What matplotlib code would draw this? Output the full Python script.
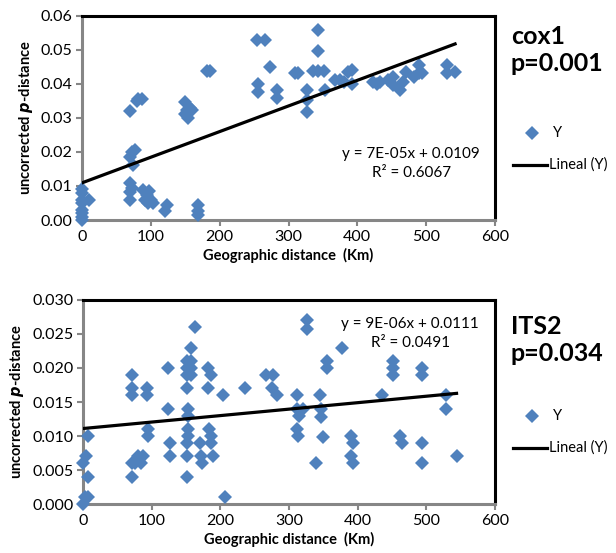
import matplotlib.pyplot as plt
import numpy as np

# cox1: geographic distance (km) vs uncorrected p-distance
cox1_km = [0, 0, 0, 0, 0, 0, 0, 0, 10,
           70, 72, 70, 74, 77, 70, 70, 70, 72,
           82, 80, 87,
           89, 92, 94, 96, 103, 98, 100,
           121, 123,
           150, 157, 152, 154, 160, 150,
           169, 169, 169,
           181, 186,
           254, 266, 273, 256, 256, 283, 283,
           310, 314,
           327, 327, 327,
           343, 343, 336, 343, 351,
           353,
           368, 375, 380,
           387, 392, 392,
           423, 433, 428,
           452, 452, 462, 467, 470, 445,
           489, 489, 494, 483,
           530, 530, 542]
cox1_p = [0.009, 0.008, 0.006, 0.005, 0.003, 0.002, 0.001, 0.000, 0.006,
          0.032, 0.020, 0.0186, 0.016, 0.0206, 0.011, 0.0083, 0.006, 0.0095,
          0.0354, 0.035, 0.0355,
          0.0088, 0.006, 0.0073, 0.005, 0.005, 0.0085, 0.006,
          0.0025, 0.0044,
          0.0347, 0.033, 0.0323, 0.030, 0.0323, 0.031,
          0.0044, 0.0025, 0.0015,
          0.0438, 0.0438,
          0.0529, 0.0529, 0.0448, 0.040, 0.0377, 0.0382, 0.0357,
          0.0431, 0.0431,
          0.0382, 0.0352, 0.0318,
          0.0558, 0.0497, 0.0438, 0.0438, 0.0438,
          0.0382,
          0.041, 0.041, 0.0405,
          0.0435, 0.044, 0.040,
          0.0406, 0.0406, 0.040,
          0.042, 0.0396, 0.038, 0.0406, 0.0435, 0.041,
          0.0455, 0.043, 0.043, 0.042,
          0.0455, 0.043, 0.0435]

# ITS2
its2_km = [0, 3, 8, 0, 5, 8, 8,
           71, 71, 71, 71, 71, 76, 80, 84, 88,
           93, 93, 95, 95,
           124, 124, 127, 127,
           151, 151, 151, 157, 157, 157, 158, 163, 151,
           153, 153, 153, 153, 151, 151, 151,
           170, 172, 174,
           182, 187, 182, 183, 186, 186, 190,
           204, 207, 236,
           267, 276, 275, 282,
           311, 311, 315, 320, 311, 313, 326, 326,
           345, 347, 347, 350, 340,
           355, 355, 377,
           391, 393, 391, 393,
           435, 452, 452, 452,
           461, 464,
           493, 493, 493, 493,
           529, 529, 544]
its2_p = [0.000, 0.001, 0.001, 0.006, 0.007, 0.004, 0.010,
          0.019, 0.017, 0.016, 0.004, 0.006, 0.006, 0.007, 0.006, 0.007,
          0.017, 0.016, 0.011, 0.010,
          0.020, 0.014, 0.009, 0.007,
          0.021, 0.020, 0.019, 0.021, 0.020, 0.019, 0.023, 0.026, 0.017,
          0.014, 0.013, 0.011, 0.010, 0.009, 0.007, 0.004,
          0.009, 0.007, 0.006,
          0.020, 0.019, 0.017, 0.011, 0.010, 0.009, 0.007,
          0.016, 0.001, 0.017,
          0.019, 0.019, 0.017, 0.016,
          0.016, 0.014, 0.013, 0.014, 0.011, 0.010, 0.027, 0.0258,
          0.016, 0.014, 0.0128, 0.0099, 0.006,
          0.021, 0.020, 0.023,
          0.010, 0.009, 0.007, 0.006,
          0.016, 0.021, 0.020, 0.019,
          0.010, 0.009,
          0.020, 0.019, 0.009, 0.006,
          0.016, 0.014, 0.007]

# trendlines as drawn (slope, intercept)
cox1_trend = (7.52e-05, 0.0109)
its2_trend = (9.5e-06, 0.0111)

plt.rcParams['font.family'] = ['Lato', 'DejaVu Sans']

BLUE = '#4F81BD'
GRAY = '#868686'
MS = 7.6

fig = plt.figure(figsize=(6.16, 5.53), dpi=100)


def panel(rect, km, p, trend, ymax, ystep, yfmt, eq_text, eq_pos, title, title_y, leg_y):
    ax = fig.add_axes(rect)
    ax.plot(km, p, linestyle='none', marker='D', markersize=MS,
            color=BLUE, markeredgewidth=0, zorder=3, clip_on=False)
    xs = np.array([min(km), max(km)])
    ax.plot(xs, trend[0] * xs + trend[1], color='black', lw=2.3, zorder=4)
    ax.set_xlim(0, 600)
    ax.set_ylim(0, ymax)
    ticks = np.arange(0, ymax + ystep / 2, ystep)
    ax.set_xticks(range(0, 601, 100))
    ax.set_yticks(ticks)
    ax.set_yticklabels([yfmt.format(v) for v in ticks])
    for s in ('left', 'bottom'):
        ax.spines[s].set_color(GRAY)
        ax.spines[s].set_linewidth(2.2)
    for s in ('top', 'right'):
        ax.spines[s].set_color('black')
        ax.spines[s].set_linewidth(2.2)
    ax.tick_params(direction='out', length=4, width=1.5, color=GRAY,
                   labelsize=11.5, pad=3)
    ax.set_xlabel('Geographic distance  (Km)', fontsize=10.5, fontweight='bold', labelpad=3)
    ax.set_ylabel('uncorrected $\\boldsymbol{p}$-distance', fontsize=10.5,
                  fontweight='bold', labelpad=4)
    ax.text(eq_pos[0], eq_pos[1], eq_text, transform=ax.transAxes,
            ha='center', va='center', fontsize=11, linespacing=1.45)
    fig.text(511 / 616, 1 - title_y / 553, title, fontsize=18,
             fontweight='bold', va='center', ha='left', linespacing=1.2)
    # legend
    fig.lines.append(plt.Line2D([532 / 616], [1 - leg_y / 553], marker='D',
                                markersize=MS, color=BLUE, markeredgewidth=0,
                                linestyle='none', transform=fig.transFigure))
    fig.text(553 / 616, 1 - leg_y / 553, 'Y', fontsize=10.5, va='center')
    fig.lines.append(plt.Line2D([513 / 616, 547 / 616],
                                [1 - (leg_y + 32) / 553] * 2, color='black',
                                lw=2.3, transform=fig.transFigure))
    fig.text(549 / 616, 1 - (leg_y + 32) / 553, 'Lineal (Y)', fontsize=10.5,
             va='center')
    return ax


panel([82 / 616, 1 - 220 / 553, 413 / 616, 204.5 / 553], cox1_km, cox1_p,
      cox1_trend, 0.06, 0.01, '{:.2f}', 'y = 7E-05x + 0.0109\nR² = 0.6067',
      (0.797, 0.276), 'cox1\np=0.001', 50, 133)
panel([83 / 616, 1 - 504 / 553, 412 / 616, 204 / 553], its2_km, its2_p,
      its2_trend, 0.030, 0.005, '{:.3f}', 'y = 9E-06x + 0.0111\nR² = 0.0491',
      (0.794, 0.838), 'ITS2\np=0.034', 340, 416)

fig.savefig('out.png', dpi=100)
